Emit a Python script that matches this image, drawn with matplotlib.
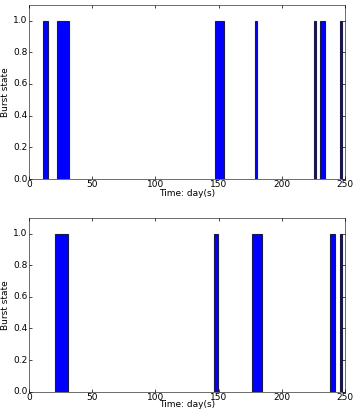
import numpy as np
import matplotlib
matplotlib.use('Agg')
import matplotlib.pyplot as plt

# burst intervals (start day, end day), state = 1 inside the interval
top_starts = [11, 22, 147, 179, 225.3, 230.3, 246.3]
top_ends = [15, 32, 154.4, 180.5, 226.9, 234, 247.9]

bottom_starts = [20.8, 146.2, 176.5, 238.4, 246.3]
bottom_ends = [31.1, 149.6, 184.4, 241.9, 247.9]

xticks = [0, 50, 100, 150, 200, 250]
yticks = [0.0, 0.2, 0.4, 0.6, 0.8, 1.0]

plt.style.use('classic')
fig = plt.figure(figsize=(3.55, 4.09), dpi=100)
ax1 = fig.add_axes([0.081, 0.5623, 0.891, 0.4262])
ax2 = fig.add_axes([0.081, 0.0423, 0.891, 0.4254])


def draw(ax, starts, ends, lpad):
    starts = np.array(starts)
    ends = np.array(ends)
    ax.bar(starts, np.ones(len(starts)), width=ends - starts, align='edge',
           color='#0000ff', edgecolor='#1a1a4a', linewidth=0.8)
    ax.set_xlim(0, 250)
    ax.set_ylim(0, 1.1)
    ax.set_xticks(xticks)
    ax.set_yticks(yticks)
    ax.set_yticklabels(['%.1f' % v for v in yticks])
    ax.tick_params(labelsize=6.5, length=2, width=0.5, pad=1)
    for s in ax.spines.values():
        s.set_linewidth(0.6)
        s.set_color('#555555')
    ax.set_xlabel('Time: day(s)', fontsize=6.5, labelpad=lpad)
    ax.set_ylabel('Burst state', fontsize=6.5,
                  family=['Liberation Sans Narrow', 'DejaVu Sans'], labelpad=2)


draw(ax1, top_starts, top_ends, -0.5)
draw(ax2, bottom_starts, bottom_ends, -1.2)

fig.savefig('out.png', dpi=100)
